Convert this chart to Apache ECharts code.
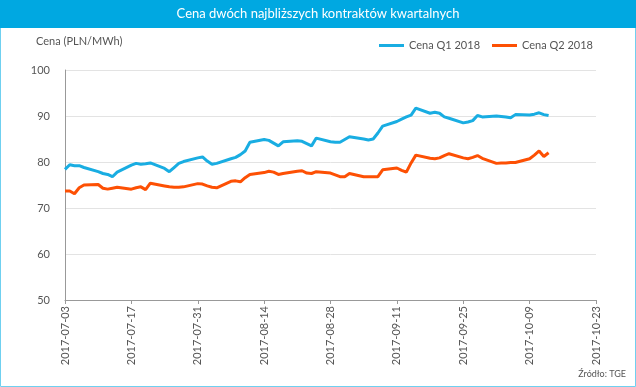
<!DOCTYPE html>
<html><head><meta charset="utf-8">
<script src="https://cdn.jsdelivr.net/npm/echarts@6/dist/echarts.min.js"></script>
<style>html,body{margin:0;padding:0;background:#fff}#c{width:636px;height:387px}</style>
</head><body><div id="c"></div>
<script>
const dates = ["2017-07-03","2017-07-04","2017-07-05","2017-07-06","2017-07-07",
"2017-07-10","2017-07-11","2017-07-12","2017-07-13","2017-07-14",
"2017-07-17","2017-07-18","2017-07-19","2017-07-20","2017-07-21",
"2017-07-24","2017-07-25","2017-07-26","2017-07-27","2017-07-28",
"2017-07-31","2017-08-01","2017-08-02","2017-08-03","2017-08-04",
"2017-08-07","2017-08-08","2017-08-09","2017-08-10","2017-08-11",
"2017-08-14","2017-08-15","2017-08-16","2017-08-17","2017-08-18",
"2017-08-21","2017-08-22","2017-08-23","2017-08-24","2017-08-25",
"2017-08-28","2017-08-29","2017-08-30","2017-08-31","2017-09-01",
"2017-09-04","2017-09-05","2017-09-06","2017-09-07","2017-09-08",
"2017-09-11","2017-09-12","2017-09-13","2017-09-14","2017-09-15",
"2017-09-18","2017-09-19","2017-09-20","2017-09-21","2017-09-22",
"2017-09-25","2017-09-26","2017-09-27","2017-09-28","2017-09-29",
"2017-10-02","2017-10-03","2017-10-04","2017-10-05","2017-10-06",
"2017-10-09","2017-10-10","2017-10-11","2017-10-12","2017-10-13"];
const q1 = [78.4,79.4,79.2,79.2,78.8,
77.9,77.5,77.3,76.8,77.8,
79.3,79.7,79.5,79.6,79.8,
78.6,77.9,78.8,79.7,80.1,
80.9,81.1,80.2,79.5,79.7,
80.7,81.0,81.6,82.4,84.3,
84.9,84.7,84.1,83.5,84.4,
84.6,84.5,84.0,83.5,85.2,
84.4,84.3,84.3,84.9,85.5,
85.0,84.8,85.0,86.3,87.8,
88.8,89.3,89.8,90.2,91.7,
90.6,90.8,90.6,89.8,89.5,
88.5,88.7,89.0,90.1,89.8,
90.0,89.9,89.8,89.6,90.3,
90.2,90.4,90.7,90.3,90.1];
const q2 = [73.7,73.7,73.1,74.4,75.0,
75.1,74.3,74.1,74.3,74.5,
74.1,74.4,74.6,74.0,75.4,
74.8,74.6,74.5,74.5,74.6,
75.3,75.2,74.8,74.5,74.4,
75.8,75.9,75.7,76.6,77.3,
77.7,78.0,77.8,77.3,77.5,
78.0,78.1,77.6,77.5,77.9,
77.6,77.2,76.8,76.8,77.5,
76.8,76.8,76.8,76.8,78.3,
78.7,78.2,77.8,79.8,81.5,
80.8,80.7,80.9,81.4,81.8,
80.9,80.7,81.0,81.4,80.8,
79.7,79.8,79.8,79.9,79.9,
80.7,81.5,82.4,81.2,82.0];
const seriesNames = ["Cena Q1 2018","Cena Q2 2018"];
const axisStart = "2017-07-03", axisEnd = "2017-10-23";
const yTicks = {min:50, max:100, step:10};

const DAY = 86400000;
const ts = s => { const p = s.split('-').map(Number); return Date.UTC(p[0], p[1]-1, p[2]); };
const fmt = v => { const d = new Date(v); const m = d.getUTCMonth()+1, dd = d.getUTCDate();
  return d.getUTCFullYear() + '-' + (m<10?'0':'') + m + '-' + (dd<10?'0':'') + dd; };

const chart = echarts.init(document.getElementById('c'), null, {renderer:'canvas'});
const FONT = 'Lato, "Open Sans", sans-serif';
chart.setOption({
  animation:false,
  textStyle:{fontFamily:FONT},
  graphic:[
    {type:'rect', shape:{x:0.5,y:0.5,width:635,height:386}, style:{fill:'#fff', stroke:'#6fd0f0', lineWidth:1}, z:-10},
    {type:'rect', shape:{x:0,y:0,width:636,height:28}, style:{fill:'#00a8e1'}, z:1},
    {type:'text', left:'center', top:7, style:{text:'Cena dwóch najbliższych kontraktów kwartalnych', fill:'#fff', font:'13px '+FONT}, z:2},
    {type:'text', left:36, top:36, style:{text:'Cena (PLN/MWh)', fill:'#555', font:'11px '+FONT}},
    {type:'text', right:10, top:370, style:{text:'Źródło: TGE', fill:'#555', font:'9px '+FONT}}
  ],
  legend:{
    right:38, top:35, itemWidth:25, itemHeight:3, itemGap:12,
    icon:'rect',
    textStyle:{color:'#555', fontSize:11, fontFamily:FONT},
    data:seriesNames
  },
  grid:{left:65, right:40, top:70, bottom:87},
  xAxis:{
    type:'value', min:ts(axisStart), max:ts(axisEnd), interval:14*DAY,
    axisLine:{show:true, onZero:false, lineStyle:{color:'#999', width:1}},
    axisTick:{show:true, length:4, lineStyle:{color:'#999'}},
    splitLine:{show:false},
    axisLabel:{rotate:90, formatter:fmt, color:'#555', fontSize:11, margin:6, fontFamily:FONT}
  },
  yAxis:{
    type:'value', min:yTicks.min, max:yTicks.max, interval:yTicks.step,
    axisLine:{show:true, lineStyle:{color:'#999'}},
    axisTick:{show:false},
    splitLine:{lineStyle:{color:'#e3e3e3'}},
    axisLabel:{color:'#555', fontSize:11, margin:15, fontFamily:FONT}
  },
  series:[
    {name:seriesNames[0], type:'line', showSymbol:false, symbol:'none', color:'#19ade2',
     lineStyle:{width:3, color:'#19ade2'}, data:dates.map((d,i)=>[ts(d), q1[i]])},
    {name:seriesNames[1], type:'line', showSymbol:false, symbol:'none', color:'#fd5004',
     lineStyle:{width:3, color:'#fd5004'}, data:dates.map((d,i)=>[ts(d), q2[i]])}
  ]
});
</script></body></html>
